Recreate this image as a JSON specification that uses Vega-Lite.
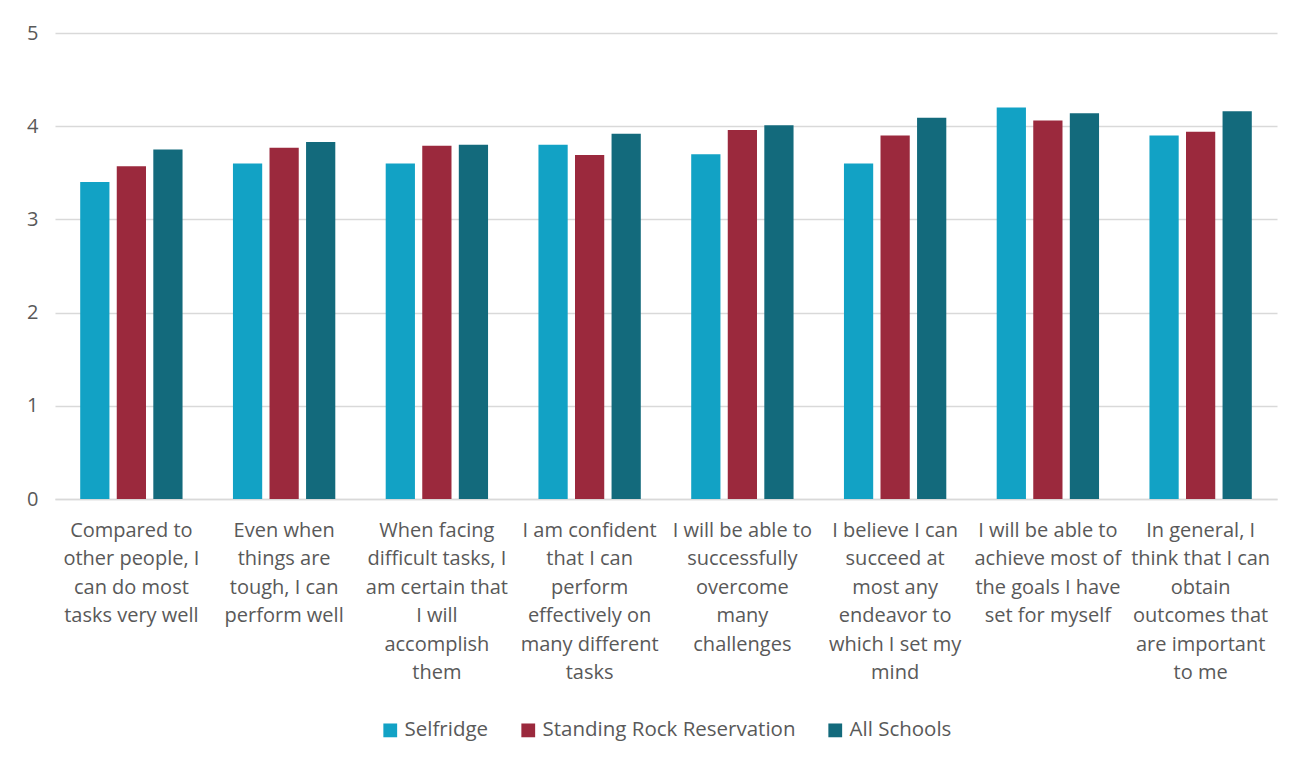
{
  "$schema": "https://vega.github.io/schema/vega-lite/v6.json",
  "autosize": "none",
  "width": 1222,
  "height": 466,
  "padding": {"left": 55, "top": 33, "right": 32, "bottom": 276},
  "background": "white",
  "data": {
    "values": [
      {"q": "Compared to|other people, I|can do most|tasks very well", "o": 1, "series": "Selfridge", "value": 3.40},
      {"q": "Compared to|other people, I|can do most|tasks very well", "o": 1, "series": "Standing Rock Reservation", "value": 3.57},
      {"q": "Compared to|other people, I|can do most|tasks very well", "o": 1, "series": "All Schools", "value": 3.75},
      {"q": "Even when|things are|tough, I can|perform well", "o": 2, "series": "Selfridge", "value": 3.60},
      {"q": "Even when|things are|tough, I can|perform well", "o": 2, "series": "Standing Rock Reservation", "value": 3.77},
      {"q": "Even when|things are|tough, I can|perform well", "o": 2, "series": "All Schools", "value": 3.83},
      {"q": "When facing|difficult tasks, I|am certain that|I will|accomplish|them", "o": 3, "series": "Selfridge", "value": 3.60},
      {"q": "When facing|difficult tasks, I|am certain that|I will|accomplish|them", "o": 3, "series": "Standing Rock Reservation", "value": 3.79},
      {"q": "When facing|difficult tasks, I|am certain that|I will|accomplish|them", "o": 3, "series": "All Schools", "value": 3.80},
      {"q": "I am confident|that I can|perform|effectively on|many different|tasks", "o": 4, "series": "Selfridge", "value": 3.80},
      {"q": "I am confident|that I can|perform|effectively on|many different|tasks", "o": 4, "series": "Standing Rock Reservation", "value": 3.69},
      {"q": "I am confident|that I can|perform|effectively on|many different|tasks", "o": 4, "series": "All Schools", "value": 3.92},
      {"q": "I will be able to|successfully|overcome|many|challenges", "o": 5, "series": "Selfridge", "value": 3.70},
      {"q": "I will be able to|successfully|overcome|many|challenges", "o": 5, "series": "Standing Rock Reservation", "value": 3.96},
      {"q": "I will be able to|successfully|overcome|many|challenges", "o": 5, "series": "All Schools", "value": 4.01},
      {"q": "I believe I can|succeed at|most any|endeavor to|which I set my|mind", "o": 6, "series": "Selfridge", "value": 3.60},
      {"q": "I believe I can|succeed at|most any|endeavor to|which I set my|mind", "o": 6, "series": "Standing Rock Reservation", "value": 3.90},
      {"q": "I believe I can|succeed at|most any|endeavor to|which I set my|mind", "o": 6, "series": "All Schools", "value": 4.09},
      {"q": "I will be able to|achieve most of|the goals I have|set for myself", "o": 7, "series": "Selfridge", "value": 4.20},
      {"q": "I will be able to|achieve most of|the goals I have|set for myself", "o": 7, "series": "Standing Rock Reservation", "value": 4.06},
      {"q": "I will be able to|achieve most of|the goals I have|set for myself", "o": 7, "series": "All Schools", "value": 4.14},
      {"q": "In general, I|think that I can|obtain|outcomes that|are important|to me", "o": 8, "series": "Selfridge", "value": 3.90},
      {"q": "In general, I|think that I can|obtain|outcomes that|are important|to me", "o": 8, "series": "Standing Rock Reservation", "value": 3.94},
      {"q": "In general, I|think that I can|obtain|outcomes that|are important|to me", "o": 8, "series": "All Schools", "value": 4.16}
    ]
  },
  "mark": {"type": "bar"},
  "encoding": {
    "x": {
      "field": "q",
      "type": "nominal",
      "sort": {"field": "o"},
      "scale": {"paddingInner": 0.33, "paddingOuter": 0.165},
      "axis": {
        "title": null,
        "labelAngle": 0,
        "labelExpr": "split(datum.label, '|')",
        "labelFont": "Open Sans",
        "labelFontSize": 20,
        "labelLineHeight": 28.5,
        "labelColor": "#595959",
        "labelLimit": 0,
        "labelOverlap": false,
        "labelBound": false,
        "labelPadding": 21,
        "ticks": false,
        "domainColor": "#d9d9d9",
        "domainWidth": 1.5,
        "grid": false
      }
    },
    "xOffset": {
      "field": "series",
      "type": "nominal",
      "sort": ["Selfridge", "Standing Rock Reservation", "All Schools"],
      "scale": {"paddingInner": 0.2, "paddingOuter": 0}
    },
    "y": {
      "field": "value",
      "type": "quantitative",
      "scale": {"domain": [0, 5], "nice": false},
      "axis": {
        "title": null,
        "values": [0, 1, 2, 3, 4, 5],
        "domain": false,
        "ticks": false,
        "gridColor": "#d9d9d9",
        "gridWidth": 1.5,
        "labelFont": "Open Sans",
        "labelFontSize": 20,
        "labelColor": "#595959",
        "labelPadding": 17
      }
    },
    "color": {
      "field": "series",
      "type": "nominal",
      "sort": ["Selfridge", "Standing Rock Reservation", "All Schools"],
      "scale": {
        "domain": ["Selfridge", "Standing Rock Reservation", "All Schools"],
        "range": ["#12a2c5", "#9b293d", "#136a7c"]
      },
      "legend": {
        "title": null,
        "orient": "bottom",
        "direction": "horizontal",
        "symbolType": "square",
        "symbolSize": 190,
        "symbolStrokeWidth": 0,
        "labelFont": "Open Sans",
        "labelFontSize": 20.5,
        "labelColor": "#595959",
        "labelLimit": 0,
        "labelOffset": 4,
        "columnPadding": 29,
        "offset": 37
      }
    }
  },
  "config": {
    "view": {"stroke": null},
    "legend": {"layout": {"bottom": {"anchor": "middle"}}}
  }
}
